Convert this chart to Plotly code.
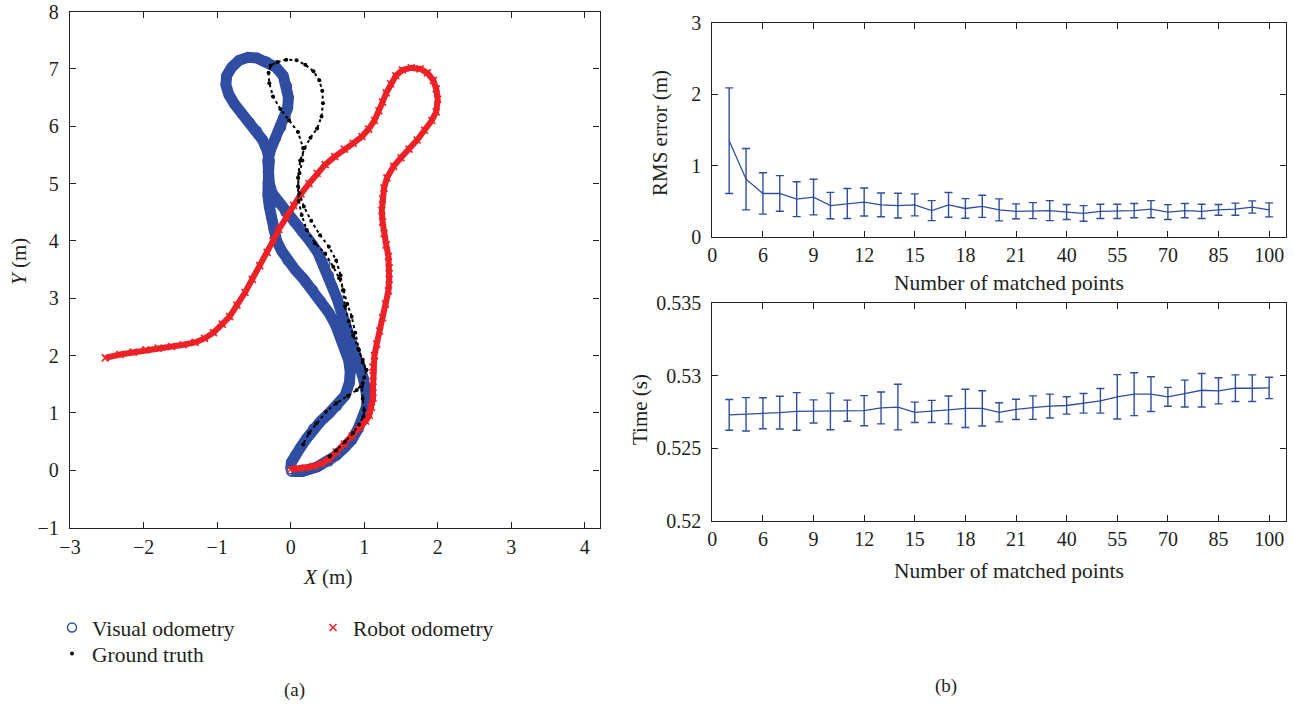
import plotly.graph_objects as go

W, H = 1295, 706

# ---------------- (a) trajectories, metres ----------------
vo_x = [0.01, 0.16, 0.36, 0.52, 0.62, 0.73, 0.83, 0.92, 0.99, 1.03, 1.04, 1.02, 0.99, 0.94, 0.88, 0.83,
        0.78, 0.73, 0.68, 0.63, 0.57, 0.52, 0.47, 0.37, 0.26, 0.15, 0.05, -0.07, -0.18, -0.25, -0.29,
        -0.31, -0.31, -0.27, -0.20, -0.13, -0.07, -0.04, -0.03, -0.05, -0.10, -0.20, -0.33, -0.46,
        -0.58, -0.70, -0.80, -0.87, -0.88, -0.84, -0.76, -0.66, -0.56, -0.46, -0.38, -0.32, -0.29,
        -0.30, -0.31, -0.31, -0.29, -0.26, -0.23, -0.19, -0.12, -0.04, 0.06, 0.18, 0.30, 0.41, 0.52,
        0.61, 0.68, 0.74, 0.79, 0.81, 0.80, 0.74, 0.63, 0.52, 0.41, 0.31, 0.22, 0.13, 0.06, 0.01, 0.00]
vo_y = [-0.02, -0.02, 0.06, 0.16, 0.26, 0.39, 0.53, 0.73, 0.93, 1.10, 1.26, 1.45, 1.60, 1.80, 2.00, 2.20,
        2.40, 2.60, 2.80, 3.00, 3.20, 3.40, 3.60, 3.80, 4.00, 4.17, 4.33, 4.50, 4.67, 4.83, 5.00,
        5.20, 5.40, 5.60, 5.80, 5.98, 6.15, 6.32, 6.50, 6.70, 6.88, 7.03, 7.13, 7.19,
        7.20, 7.15, 7.03, 6.88, 6.72, 6.55, 6.38, 6.22, 6.07, 5.92, 5.76, 5.58, 5.40,
        5.20, 5.00, 4.80, 4.60, 4.40, 4.20, 4.00, 3.82, 3.66, 3.50, 3.33, 3.15, 2.95, 2.75,
        2.54, 2.33, 2.12, 1.92, 1.72, 1.53, 1.30, 1.12, 0.99, 0.86, 0.73, 0.56, 0.39, 0.26, 0.14, 0.02]

ro_x = [0.00, 0.10, 0.20, 0.31, 0.42, 0.52, 0.62, 0.73, 0.84, 0.94, 1.02, 1.07, 1.10, 1.12, 1.12, 1.12,
        1.12, 1.14, 1.17, 1.21, 1.25, 1.29, 1.33, 1.34, 1.34, 1.33, 1.30, 1.27, 1.25, 1.24, 1.25,
        1.27, 1.31, 1.40, 1.50, 1.61, 1.72, 1.82, 1.92, 1.98, 2.00, 1.98, 1.94, 1.86, 1.76, 1.64,
        1.52, 1.43, 1.36, 1.30, 1.25, 1.20, 1.14, 1.06, 0.97, 0.85, 0.73, 0.60, 0.47, 0.36, 0.25,
        0.14, 0.04, -0.06, -0.16, -0.24, -0.32, -0.42, -0.52, -0.62, -0.73, -0.83, -0.93, -1.05,
        -1.17, -1.30, -1.46, -1.62, -1.80, -1.97, -2.14, -2.32, -2.52]
ro_y = [0.02, 0.03, 0.04, 0.07, 0.12, 0.19, 0.32, 0.46, 0.60, 0.73, 0.86, 0.96, 1.10, 1.26, 1.45, 1.65,
        1.80, 2.00, 2.20, 2.43, 2.66, 2.90, 3.13, 3.33, 3.53, 3.73, 3.93, 4.13, 4.33, 4.53, 4.73,
        4.92, 5.10, 5.30, 5.45, 5.60, 5.76, 5.93, 6.10, 6.25, 6.47, 6.65, 6.80, 6.93, 7.00, 7.02,
        6.98, 6.88, 6.74, 6.58, 6.42, 6.27, 6.10, 5.95, 5.82, 5.70, 5.60, 5.47, 5.33, 5.18, 5.00,
        4.82, 4.62, 4.42, 4.20, 4.00, 3.80, 3.57, 3.33, 3.10, 2.88, 2.68, 2.55, 2.40,
        2.30, 2.23, 2.19, 2.16, 2.13, 2.10, 2.06, 2.02, 1.96]

gt_x = [0.53, 0.62, 0.74, 0.85, 0.93, 0.99, 1.00, 0.98, 0.97, 1.00, 1.03, 0.98, 0.93, 0.88, 0.83, 0.77,
        0.72, 0.66, 0.58, 0.47, 0.33, 0.22, 0.15, 0.11, 0.10, 0.12, 0.16, 0.17, 0.10, -0.02, -0.14,
        -0.24, -0.29, -0.30, -0.27, -0.18, -0.06, 0.08, 0.20, 0.31, 0.39, 0.43, 0.44, 0.42, 0.36,
        0.27, 0.19, 0.13, 0.10, 0.12, 0.18, 0.28, 0.40, 0.52, 0.62, 0.68, 0.71, 0.74, 0.79, 0.85,
        0.92, 0.98, 1.03, 0.98, 0.90, 0.78, 0.62, 0.48, 0.35, 0.25, 0.17]
gt_y = [0.24, 0.35, 0.50, 0.65, 0.80, 0.94, 1.05, 1.25, 1.46, 1.62, 1.75, 1.88, 2.10, 2.40, 2.68, 2.90,
        3.14, 3.35, 3.55, 3.78, 3.96, 4.19, 4.45, 4.70, 4.95, 5.18, 5.40, 5.62, 5.90, 6.10, 6.30,
        6.52, 6.75, 6.93, 7.06, 7.12, 7.16, 7.15, 7.07, 6.96, 6.80, 6.62, 6.40, 6.17, 5.96,
        5.80, 5.62, 5.40, 5.10, 4.83, 4.60, 4.35, 4.10, 3.90, 3.66, 3.40, 3.14, 2.86, 2.60, 2.35,
        2.12, 1.93, 1.75, 1.52, 1.40, 1.30, 1.17, 1.02, 0.82, 0.65, 0.45]

# ---------------- (b) matched-point experiments ----------------
point_idx = list(range(1, 34))
tick_pos = list(range(0, 34, 3))
tick_text = ['0', '6', '9', '12', '15', '18', '21', '40', '55', '70', '85', '100']

rms = [1.35, 0.81, 0.61, 0.61, 0.53, 0.56, 0.44, 0.47, 0.49, 0.45, 0.44, 0.45, 0.37, 0.45, 0.40, 0.43,
       0.38, 0.36, 0.37, 0.37, 0.35, 0.33, 0.36, 0.36, 0.37, 0.39, 0.35, 0.37, 0.36, 0.38, 0.39, 0.42, 0.38]
rms_err = [0.74, 0.43, 0.29, 0.25, 0.245, 0.25, 0.185, 0.21, 0.196, 0.166, 0.173, 0.154, 0.14, 0.173,
           0.138, 0.155, 0.154, 0.105, 0.112, 0.14, 0.105, 0.11, 0.10, 0.10, 0.10, 0.12, 0.104, 0.10,
           0.10, 0.075, 0.085, 0.086, 0.098]

time_mean = [0.52730, 0.52734, 0.52741, 0.52746, 0.52754, 0.52754, 0.52754, 0.52759, 0.52759, 0.52778,
             0.52784, 0.52748, 0.52754, 0.52764, 0.52775, 0.52775, 0.52748, 0.52768, 0.52780, 0.52791,
             0.52795, 0.52810, 0.52827, 0.52855, 0.52873, 0.52873, 0.52855, 0.52877, 0.52900, 0.52896,
             0.52914, 0.52914, 0.52916]
time_err = [0.00106, 0.00115, 0.00107, 0.00113, 0.00130, 0.00080, 0.00126, 0.00073, 0.00104, 0.00110,
            0.00157, 0.00070, 0.00076, 0.00096, 0.00132, 0.00122, 0.00066, 0.00070, 0.00081, 0.00082,
            0.00060, 0.00068, 0.00085, 0.00153, 0.00148, 0.00120, 0.00065, 0.00093, 0.00116, 0.00090,
            0.00092, 0.00092, 0.00074]

BLUE = '#2F4EA2'
RED = '#EC2227'
INK = '#231F20'
FONT = 'Liberation Serif'

fig = go.Figure()

# visual odometry
fig.add_trace(go.Scatter(x=vo_x, y=vo_y, mode='lines', line=dict(color=BLUE, width=11),
                         showlegend=False, hoverinfo='skip', xaxis='x', yaxis='y'))
fig.add_trace(go.Scatter(x=vo_x, y=vo_y, mode='markers', name='Visual odometry',
                         marker=dict(symbol='circle-open', size=9, color=BLUE, line=dict(width=1.5, color=BLUE)),
                         xaxis='x', yaxis='y', legend='legend'))
# robot odometry
fig.add_trace(go.Scatter(x=ro_x, y=ro_y, mode='lines', line=dict(color=RED, width=6),
                         showlegend=False, hoverinfo='skip', xaxis='x', yaxis='y'))
fig.add_trace(go.Scatter(x=ro_x, y=ro_y, mode='markers', name='Robot odometry',
                         marker=dict(symbol='x-thin-open', size=7, color=RED, line=dict(width=1.6, color=RED)),
                         xaxis='x', yaxis='y', legend='legend2'))
# ground truth
fig.add_trace(go.Scatter(x=gt_x, y=gt_y, mode='lines', line=dict(color='black', width=2, dash='dot'),
                         showlegend=False, hoverinfo='skip', xaxis='x', yaxis='y'))
fig.add_trace(go.Scatter(x=gt_x, y=gt_y, mode='markers', name='Ground truth',
                         marker=dict(symbol='circle', size=4, color='black'),
                         xaxis='x', yaxis='y', legend='legend3'))

# RMS error
fig.add_trace(go.Scatter(x=point_idx, y=rms, mode='lines', line=dict(color=BLUE, width=1.3),
                         error_y=dict(type='data', array=rms_err, visible=True, color=BLUE,
                                      thickness=1.4, width=4),
                         showlegend=False, xaxis='x2', yaxis='y2'))
# Time
fig.add_trace(go.Scatter(x=point_idx, y=time_mean, mode='lines', line=dict(color=BLUE, width=1.3),
                         error_y=dict(type='data', array=time_err, visible=True, color=BLUE,
                                      thickness=1.4, width=4),
                         showlegend=False, xaxis='x3', yaxis='y3'))


def ax(**kw):
    d = dict(showline=True, linecolor=INK, linewidth=1.3, mirror='ticks', ticks='inside',
             ticklen=6, tickwidth=1.2, tickcolor=INK, showgrid=False, zeroline=False,
             automargin=False, ticklabelstandoff=6,
             tickfont=dict(family=FONT, size=20, color=INK), fixedrange=True)
    d.update(kw)
    return d


def px_x(p):
    return p / W


def px_y(p):
    return 1 - p / H


def leg(x, y):
    return dict(x=px_x(x), y=px_y(y), xanchor='left', yanchor='top', bgcolor='rgba(0,0,0,0)',
                font=dict(family=FONT, size=21.5, color=INK))


fig.update_layout(
    width=W, height=H,
    margin=dict(l=0, r=0, t=0, b=0, autoexpand=False),
    paper_bgcolor='white', plot_bgcolor='white',
    xaxis=ax(domain=[px_x(70), px_x(599.5)], range=[-3, 4.2], tickvals=list(range(-3, 5)), anchor='y',
             ticklabelstandoff=1),
    yaxis=ax(domain=[px_y(527.7), px_y(11.5)], range=[-1, 8], tickvals=list(range(-1, 9)), anchor='x'),
    xaxis2=ax(domain=[px_x(712.3), px_x(1286)], range=[0, 34], tickvals=tick_pos, ticktext=tick_text,
              anchor='y2', ticklabelstandoff=0),
    yaxis2=ax(domain=[px_y(237), px_y(23)], range=[0, 3], tickvals=[0, 1, 2, 3], anchor='x2'),
    xaxis3=ax(domain=[px_x(712.3), px_x(1286)], range=[0, 34], tickvals=tick_pos, ticktext=tick_text,
              anchor='y3', ticklabelstandoff=0),
    yaxis3=ax(domain=[px_y(520.7), px_y(303.3)], range=[0.52, 0.535],
              tickvals=[0.52, 0.525, 0.53, 0.535], ticktext=['0.52', '0.525', '0.53', '0.535'], anchor='x3'),
    legend=leg(52, 607),
    legend2=leg(313, 607),
    legend3=leg(52, 633),
    font=dict(family=FONT, color=INK),
)

ann = [
    dict(text='<i>Y</i> (m)', x=px_x(19), y=px_y(262), textangle=-90, size=21),
    dict(text='<i>X</i> (m)', x=px_x(327), y=px_y(577), textangle=0, size=21),
    dict(text='RMS error (m)', x=px_x(660), y=px_y(133), textangle=-90, size=21),
    dict(text='Time (s)', x=px_x(640), y=px_y(410), textangle=-90, size=21),
    dict(text='Number of matched points', x=px_x(1009), y=px_y(283), textangle=0, size=21.5),
    dict(text='Number of matched points', x=px_x(1009), y=px_y(571), textangle=0, size=21.5),
    dict(text='(a)', x=px_x(294), y=px_y(690), textangle=0, size=19),
    dict(text='(b)', x=px_x(946), y=px_y(686), textangle=0, size=19),
]
for a in ann:
    fig.add_annotation(text=a['text'], x=a['x'], y=a['y'], xref='paper', yref='paper',
                       xanchor='center', yanchor='middle', showarrow=False, textangle=a['textangle'],
                       font=dict(family=FONT, size=a['size'], color=INK))

fig.write_html('out.html')
